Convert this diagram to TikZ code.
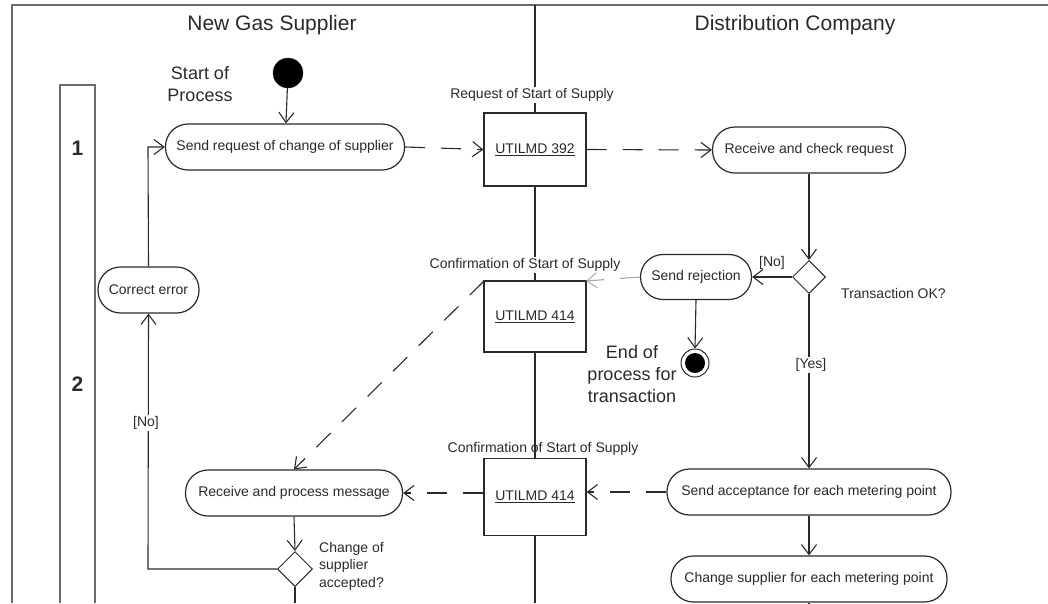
\documentclass[tikz,border=0pt]{standalone}
\usepackage{fontspec}
\setmainfont{Liberation Sans}
\usetikzlibrary{arrows.meta,shapes.geometric}
\definecolor{frame}{HTML}{6A6A6A}
\definecolor{ink}{HTML}{2A2A2A}
\definecolor{faint}{HTML}{AAAAAA}
\tikzset{
  txt/.style={font=\fontsize{14}{16}\selectfont, text=ink},
  big/.style={font=\fontsize{18}{22}\selectfont, text=ink, align=center},
  head/.style={font=\fontsize{21}{24}\selectfont, text=ink},
  activity/.style={draw=ink, line width=1.2pt, rectangle, rounded corners=22.5pt, minimum height=46pt, inner sep=2pt, fill=white, txt},
  msgbox/.style={draw=ink, line width=1.2pt, rectangle, minimum width=102pt, fill=white, txt},
  decision/.style={draw=ink, line width=1pt, diamond, minimum width=33pt, minimum height=33pt, inner sep=0pt, fill=white},
  flow/.style={draw=ink, line width=1.1pt, -{Straight Barb[length=10pt,width=15pt,line width=1.1pt]}},
  msgflow/.style={flow, dash pattern=on 20pt off 16pt},
  plain/.style={draw=ink, line width=1.1pt},
  lbl/.style={txt, inner sep=1pt},
}
\begin{document}
\begin{tikzpicture}[x=1pt,y=-1pt]
\useasboundingbox (0,0) rectangle (1048,603);
% frame and lanes
\draw[frame, line width=1.6pt] (12,603) -- (12,5) -- (1048,5);
\draw[ink, line width=1.4pt] (535,5) -- (535,603);
\draw[frame, line width=1.3pt] (60,603) -- (60,85) -- (95,85) -- (95,603);
\node[head] (h1) at (272,25) {New Gas Supplier};
\node[head] (h2) at (795,25) {Distribution Company};
\node[font=\bfseries\fontsize{21}{24}\selectfont, text=ink] (p1) at (77.5,148) {1};
\node[font=\bfseries\fontsize{21}{24}\selectfont, text=ink] (p2) at (77.5,384) {2};

% nodes
\node[circle, fill=black, draw=ink, minimum size=30pt, inner sep=0pt] (start) at (288,73) {};
\node[big] (starttxt) at (200,84) {Start of\\Process};
\node[activity, minimum width=239pt] (send) at (285,147) {Send request of change of supplier};
\node[msgbox, minimum height=73pt] (b392) at (535,149.5) {\underline{UTILMD 392}};
\node[lbl, fill=white] (l392) at (532,95) {Request of Start of Supply};
\node[activity, minimum width=193pt] (recv) at (809,150) {Receive and check request};
\node[decision] (d1) at (809,277) {};
\node[lbl, anchor=west] (tok) at (840,293) {Transaction OK?};
\node[activity, minimum width=111pt, minimum height=45pt] (rej) at (696,277) {Send rejection};
\node[circle, draw=ink, line width=1pt, minimum size=28pt, inner sep=0pt] (end) at (695,363) {};
\fill[black] (end.center) circle (10pt);
\node[big] (endtxt) at (632,374) {End of\\process for\\transaction};
\node[msgbox, minimum height=71pt] (b414a) at (535,316.5) {\underline{UTILMD 414}};
\node[lbl, fill=white] (l414a) at (525,265) {Confirmation of Start of Supply};
\node[activity, minimum width=101pt] (corr) at (148.5,290) {Correct error};
\node[activity, minimum width=284pt] (acc) at (809,492) {Send acceptance for each metering point};
\node[activity, minimum width=276pt] (chg) at (809,579) {Change supplier for each metering point};
\node[msgbox, minimum height=77pt] (b414b) at (535,497) {\underline{UTILMD 414}};
\node[lbl] (l414b) at (543,449) {Confirmation of Start of Supply};
\node[activity, minimum width=217pt] (rpm) at (294,493) {Receive and process message};
\node[decision, minimum width=35pt, minimum height=35pt] (d2) at (295,569) {};
\node[lbl, anchor=west, align=left, font=\fontsize{14}{17.5}\selectfont] (cacc) at (318,566) {Change of\\supplier\\accepted?};

\coordinate (bA) at (809,603);
\coordinate (bB) at (295,603);
\coordinate (c1) at (148,569);
\coordinate (c2) at (148,147);
\coordinate (aTR) at (586,281);
\coordinate (aTL) at (484,281);

% connectors
\draw[flow] (start) -- (send);
\draw[msgflow] (send.east) -- (b392.west);
\draw[msgflow] (b392.east) -- (recv.west);
\draw[flow] (recv.south) -- (d1.north);
\draw[flow] (d1.west) -- (rej.east);
\node[lbl] (no1) at (772,263) {[No]};
\draw[flow] (rej.south) -- (end.north);
\draw[flow] (d1.south) -- (acc.north);
\node[lbl, fill=white] (yes) at (811,365) {[Yes]};
\draw[flow] (acc.south) -- (chg.north);
\draw[plain] (chg.south) -- (bA);
\draw[msgflow] (acc.west) -- (b414b.east |- acc.west);
\draw[msgflow] (b414b.west |- rpm.east) -- (rpm.east);
\draw[msgflow, draw=faint, -{Straight Barb[length=10pt,width=15pt,line width=1pt]}] (rej.west) -- (aTR);
\draw[msgflow] (aTL) -- (rpm.north);
\draw[flow] (rpm.south) -- (d2.north);
\draw[plain] (d2.south) -- (bB);
\draw[flow] (d2.west) -- (c1) -- (corr.south);
\node[lbl, fill=white] (no2) at (146,423) {[No]};
\draw[flow] (corr.north) -- (c2) -- (send.west);
\end{tikzpicture}
\end{document}
